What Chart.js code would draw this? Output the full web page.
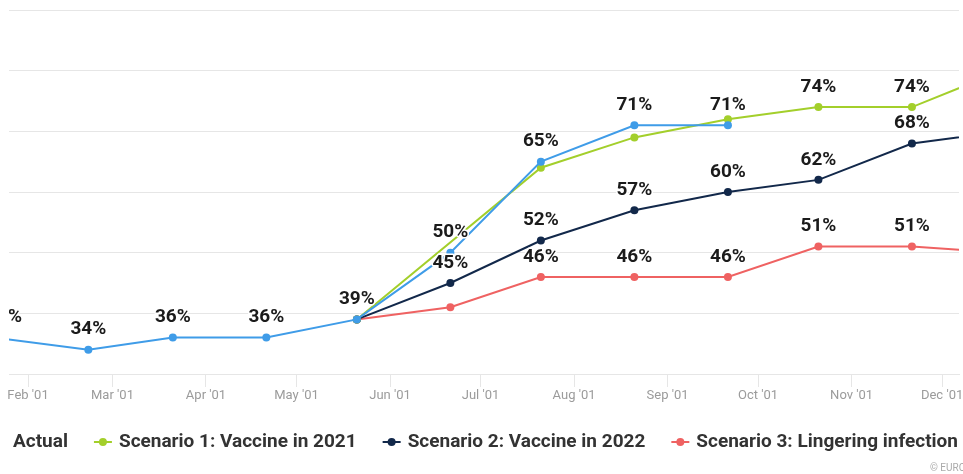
<!DOCTYPE html>
<html>
<head>
<meta charset="utf-8">
<script src="https://cdn.jsdelivr.net/npm/chart.js@4.4.1/dist/chart.umd.min.js"></script>
<style>
  html, body { margin: 0; padding: 0; background: #fff; overflow: hidden; }
  canvas { display: block; }
</style>
</head>
<body>
<canvas id="myChart" width="963" height="474"></canvas>
<script>
// data: one value per month (21st of each month)
const pointDates = ['2001-01-21', '2001-02-21', '2001-03-21', '2001-04-21', '2001-05-21', '2001-06-21',
    '2001-07-21', '2001-08-21', '2001-09-21', '2001-10-21', '2001-11-21', '2001-12-21'];
const actual    = [36, 34, 36, 36, 39, 50, 65, 71, 71, null, null, null];
const scenario1 = [null, null, null, null, 39, null, 64, 69, 72, 74, 74, 80];
const scenario2 = [null, null, null, null, 39, 45, 52, 57, 60, 62, 68, 70];
const scenario3 = [null, null, null, null, 39, 41, 46, 46, 46, 51, 51, 50];

const tickDates = ['2001-02-01', '2001-03-01', '2001-04-01', '2001-05-01', '2001-06-01', '2001-07-01',
    '2001-08-01', '2001-09-01', '2001-10-01', '2001-11-01', '2001-12-01'];
const tickLabels = ["Feb '01", "Mar '01", "Apr '01", "May '01", "Jun '01", "Jul '01",
    "Aug '01", "Sep '01", "Oct '01", "Nov '01", "Dec '01"];

const seriesNames = ['Actual', 'Scenario 1: Vaccine in 2021', 'Scenario 2: Vaccine in 2022', 'Scenario 3: Lingering infection'];
const colors = ['#3f9ce8', '#a3cf2b', '#12284a', '#ef6262'];

function dayOf(s) {
    const p = s.split('-').map(Number);
    return (Date.UTC(p[0], p[1] - 1, p[2]) - Date.UTC(2001, 1, 1)) / 864e5;
}

function toPoints(values) {
    return values.map((v, i) => ({ x: dayOf(pointDates[i]), y: v }));
}

const FONT = 'Roboto, "Noto Sans", sans-serif';

// value labels above the markers, hidden when they would overlap
const valueLabels = {
    id: 'valueLabels',
    afterDatasetsDraw(chart) {
        const ctx = chart.ctx;
        const area = chart.chartArea;
        const placed = [];
        const markers = [];
        chart.data.datasets.forEach((ds, di) => {
            chart.getDatasetMeta(di).data.forEach((pt, i) => {
                if (ds.data[i].y != null) markers.push({ di: di, x: pt.x, y: pt.y });
            });
        });
        ctx.save();
        ctx.beginPath();
        ctx.rect(area.left, 0, chart.width - area.left, chart.height);
        ctx.clip();
        ctx.font = 'bold 19px ' + FONT;
        ctx.textAlign = 'center';
        ctx.textBaseline = 'middle';
        chart.data.datasets.forEach((ds, di) => {
            chart.getDatasetMeta(di).data.forEach((pt, i) => {
                const v = ds.data[i].y;
                if (v == null) return;
                const text = v + '%';
                const w = ctx.measureText(text).width;
                const x = Math.max(pt.x, area.left - 5);
                const y = pt.y - 20;
                const box = { l: x - w / 2, r: x + w / 2, t: y - 7, b: y + 7 };
                const hit = placed.some(b => b.l < box.r && b.r > box.l && b.t < box.b && b.b > box.t) ||
                    markers.some(m => m.di !== di && m.x >= box.l && m.x <= box.r && m.y >= box.t && m.y <= box.b);
                if (hit) return;
                placed.push(box);
                ctx.lineWidth = 3;
                ctx.strokeStyle = '#ffffff';
                ctx.lineJoin = 'round';
                ctx.strokeText(text, x, y);
                ctx.fillStyle = '#1b1b1b';
                ctx.fillText(text, x, y);
            });
        });
        ctx.restore();
    }
};

// legend row under the axis, plus the source note
const bottomLegend = {
    id: 'bottomLegend',
    afterDraw(chart) {
        const ctx = chart.ctx;
        const area = chart.chartArea;
        ctx.save();
        ctx.beginPath();
        ctx.rect(area.left, 0, chart.width - area.left, chart.height);
        ctx.clip();
        ctx.font = 'bold 19px ' + FONT;
        ctx.textBaseline = 'middle';
        let x = -12;
        const y = 442;
        chart.data.datasets.forEach(ds => {
            ctx.strokeStyle = ds.borderColor;
            ctx.lineWidth = 2;
            ctx.beginPath();
            ctx.moveTo(x, y);
            ctx.lineTo(x + 18, y);
            ctx.stroke();
            ctx.fillStyle = ds.borderColor;
            ctx.beginPath();
            ctx.arc(x + 9, y, 4, 0, Math.PI * 2);
            ctx.fill();
            ctx.fillStyle = '#333333';
            ctx.fillText(ds.label, x + 25, y);
            x += 25 + ctx.measureText(ds.label).width + 26;
        });
        ctx.restore();
        ctx.save();
        ctx.font = '10px ' + FONT;
        ctx.fillStyle = '#aaaaaa';
        ctx.textBaseline = 'middle';
        ctx.fillText('\u00a9 EUROMONITOR', 930, 468);
        ctx.restore();
    }
};

const allSeries = [actual, scenario1, scenario2, scenario3];

const ctx = document.getElementById('myChart');

var myChart = new Chart(ctx, {
    type: 'line',
    data: {
        datasets: allSeries.map((values, i) => ({
            label: seriesNames[i],
            data: toPoints(values),
            borderColor: colors[i],
            backgroundColor: colors[i],
            pointBackgroundColor: colors[i],
            borderWidth: 2,
            pointRadius: 4,
            pointBorderWidth: 0,
            pointHoverRadius: 4,
            tension: 0,
            spanGaps: true
        }))
    },
    options: {
        responsive: false,
        animation: false,
        devicePixelRatio: 1,
        layout: { padding: { top: 10, left: 9, right: 0, bottom: 70 } },
        plugins: {
            legend: { display: false },
            tooltip: { enabled: false }
        },
        scales: {
            x: {
                type: 'linear',
                min: -6.3,
                max: 308.6,
                afterBuildTicks: scale => {
                    scale.ticks = tickDates.map(d => ({ value: dayOf(d) }));
                },
                afterFit: scale => {
                    scale.height = 30;
                    scale.paddingLeft = 0;
                    scale.paddingRight = 0;
                },
                grid: {
                    drawOnChartArea: false,
                    drawTicks: true,
                    tickLength: 13,
                    color: '#e6e6e6'
                },
                border: { display: true, color: '#e6e6e6' },
                ticks: {
                    autoSkip: false,
                    maxRotation: 0,
                    padding: 1,
                    color: '#9b9b9b',
                    font: { family: FONT, size: 13 },
                    callback: (value, index) => tickLabels[index]
                }
            },
            y: {
                min: 30,
                max: 90,
                afterFit: scale => {
                    scale.width = 0;
                    scale.paddingTop = 0;
                    scale.paddingBottom = 0;
                },
                ticks: { display: false, stepSize: 10 },
                border: { display: false },
                grid: { color: '#e6e6e6', drawTicks: false }
            }
        }
    },
    plugins: [valueLabels, bottomLegend]
});
</script>
</body>
</html>
